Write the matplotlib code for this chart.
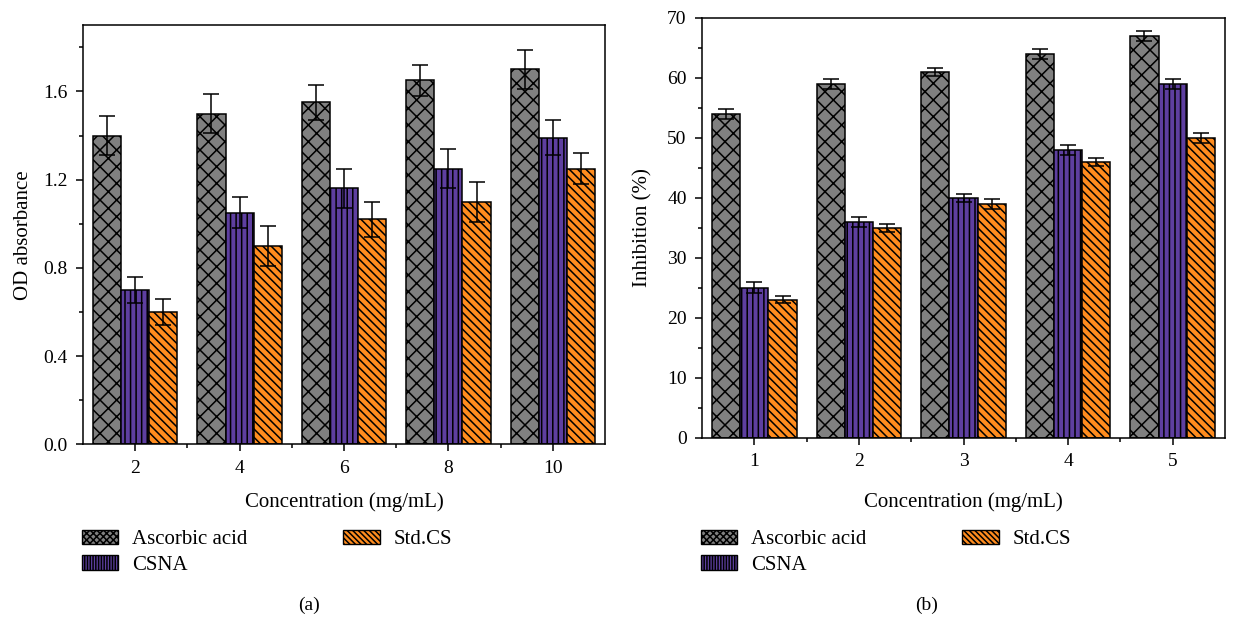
import matplotlib.pyplot as plt
from matplotlib.patches import Patch
from matplotlib.ticker import AutoMinorLocator, FixedLocator
import numpy as np

plt.rcParams['font.family'] = ['Liberation Serif', 'DejaVu Serif']
plt.rcParams['hatch.linewidth'] = 1.1

series = ["Ascorbic acid", "CSNA", "Std.CS"]
colors = ["#808080", "#5e3fa0", "#ff8c1e"]
hatches = ["xx", "|||", "\\\\\\\\"]
legend_hatches = ["xxxxx", "||||||", "\\\\\\\\\\\\"]

# panel (a)
conc_a = ["2", "4", "6", "8", "10"]
od_ascorbic = [1.40, 1.50, 1.55, 1.65, 1.70]
od_ascorbic_err = [0.09, 0.09, 0.08, 0.07, 0.09]
od_csna = [0.70, 1.05, 1.16, 1.25, 1.39]
od_csna_err = [0.06, 0.07, 0.09, 0.09, 0.08]
od_std = [0.60, 0.90, 1.02, 1.10, 1.25]
od_std_err = [0.06, 0.09, 0.08, 0.09, 0.07]

# panel (b)
conc_b = ["1", "2", "3", "4", "5"]
inh_ascorbic = [54, 59, 61, 64, 67]
inh_ascorbic_err = [0.9, 0.8, 0.7, 0.9, 0.8]
inh_csna = [25, 36, 40, 48, 59]
inh_csna_err = [0.9, 0.8, 0.7, 0.8, 0.9]
inh_std = [23, 35, 39, 46, 50]
inh_std_err = [0.6, 0.7, 0.8, 0.7, 0.8]

W, H = 1235, 617
fig = plt.figure(figsize=(W / 100, H / 100), dpi=100)
# axes boxes in pixels: left, top, right, bottom
box_a = (83, 25.3, 605, 444.3)
box_b = (702, 18, 1225, 437.7)


def add_axes(b):
    l, t, r, btm = b
    return fig.add_axes([l / W, 1 - btm / H, (r - l) / W, (btm - t) / H])


def draw(ax, b, cats, vals, errs, ylim, yticks, ylabel, ylabel_x):
    x = np.arange(len(cats))
    w = 0.27
    for i, (v, e) in enumerate(zip(vals, errs)):
        ax.bar(x + (i - 1) * w, v, w, color=colors[i], hatch=hatches[i],
               edgecolor="black", linewidth=1.1, zorder=2)
        ax.errorbar(x + (i - 1) * w, v, yerr=e, fmt="none", ecolor="black",
                    elinewidth=1.1, capsize=5.5, capthick=1.1, zorder=3)
    ax.set_xlim(-0.5, len(cats) - 0.5)
    ax.set_ylim(*ylim)
    ax.set_xticks(x)
    ax.set_xticklabels(cats)
    ax.xaxis.set_minor_locator(FixedLocator(x[:-1] + 0.5))
    ax.set_yticks(yticks)
    ax.yaxis.set_minor_locator(AutoMinorLocator(2))
    ax.tick_params(which="both", direction="out", labelsize=14, top=False, right=False, pad=6)
    ax.tick_params(which="major", length=5, width=1.1)
    ax.tick_params(which="minor", length=3, width=1.1)
    for s in ax.spines.values():
        s.set_linewidth(1.1)

    hpx = b[3] - b[1]
    ax.set_ylabel(ylabel, fontsize=15, va="center")
    ax.yaxis.set_label_coords((ylabel_x - b[0]) / (b[2] - b[0]), 0.5)
    ax.set_xlabel("Concentration (mg/mL)", fontsize=15, va="center")
    ax.xaxis.set_label_coords(0.5, -(502 - 444.3) / hpx - (444.3 - b[3]) / hpx)

    handles = [Patch(facecolor=colors[i], hatch=legend_hatches[i],
                     edgecolor="black", label=series[i]) for i in range(3)]
    top_px = 529.5
    ax.legend(handles=handles, ncol=2, loc="upper left",
              bbox_to_anchor=(-0.002, -(top_px - b[3]) / hpx),
              frameon=False, fontsize=15, handlelength=1.75, handleheight=0.72,
              columnspacing=4.6, labelspacing=0.3, handletextpad=0.65,
              borderaxespad=0, borderpad=0)


ax_a = add_axes(box_a)
ax_b = add_axes(box_b)
draw(ax_a, box_a, conc_a, [od_ascorbic, od_csna, od_std],
     [od_ascorbic_err, od_csna_err, od_std_err],
     (0, 1.9), [0.0, 0.4, 0.8, 1.2, 1.6], "OD absorbance", 24)
ax_a.yaxis.set_major_formatter(plt.FormatStrFormatter("%.1f"))
draw(ax_b, box_b, conc_b, [inh_ascorbic, inh_csna, inh_std],
     [inh_ascorbic_err, inh_csna_err, inh_std_err],
     (0, 70), np.arange(0, 71, 10), "Inhibition (%)", 643)

fig.text(0.25, 0.012, "(a)", ha="center", fontsize=14)
fig.text(0.75, 0.012, "(b)", ha="center", fontsize=14)

fig.savefig("out.png", dpi=100)
